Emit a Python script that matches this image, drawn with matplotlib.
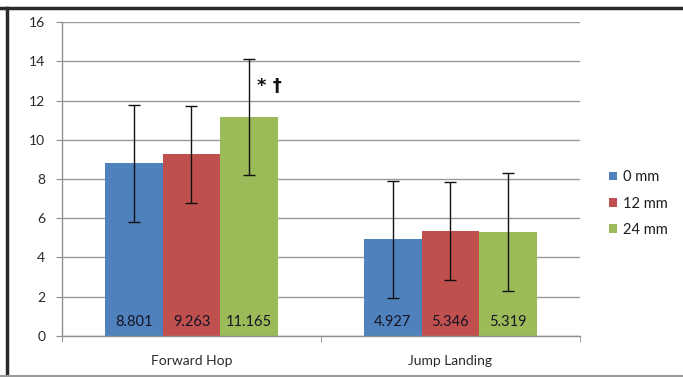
import numpy as np
import matplotlib.pyplot as plt
from matplotlib.lines import Line2D

plt.rcParams['font.family'] = ['Lato', 'DejaVu Sans']

categories = ["Forward Hop", "Jump Landing"]
series = ["0 mm", "12 mm", "24 mm"]
means = [
    [8.801, 4.927],
    [9.263, 5.346],
    [11.165, 5.319],
]
errors = [
    [2.98, 2.98],
    [2.47, 2.49],
    [2.96, 3.01],
]
colors = ["#4F81BD", "#C0504D", "#9BBB59"]
y_ticks = [0, 2, 4, 6, 8, 10, 12, 14, 16]

fig = plt.figure(figsize=(6.83, 3.77), dpi=100)
ax = fig.add_axes([0.0908, 0.1088, 0.7582, 0.8328])

x = np.arange(len(categories))
width = 1 / 4.5
for i, (name, vals, errs, c) in enumerate(zip(series, means, errors, colors)):
    pos = x + (i - 1) * width
    ax.bar(pos, vals, width, color=c, label=name, zorder=2)
    ax.errorbar(pos, vals, yerr=errs, fmt='none', ecolor='#111111',
                elinewidth=1.0, capsize=4, capthick=1.0, zorder=3)
    for px, v in zip(pos, vals):
        ax.text(px, 0.72, f"{v:.3f}", ha='center', va='center',
                fontsize=10.5, color='#151525', zorder=4)

# significance marks over the 24 mm forward hop bar
ax.text(0.30, 12.73, "* \u2020", ha='center', va='center', fontsize=13,
        fontweight='bold', color='#111111', family=['DejaVu Sans'])

ax.set_xlim(-0.5, 1.5)
ax.set_ylim(0, 16)
ax.set_yticks(y_ticks)
ax.set_xticks(x)
ax.set_xticklabels(categories)
ax.set_xticks([-0.5, 0.5, 1.5], minor=True)
ax.tick_params(axis='x', which='major', length=0, pad=14, labelsize=10,
               labelcolor='#2a2a2a')
ax.tick_params(axis='x', which='minor', length=4, color='#909090',
               direction='out')
ax.tick_params(axis='y', length=4, color='#909090', labelsize=10,
               labelcolor='#2a2a2a', pad=8)
ax.grid(axis='y', color='#9a9a9a', linewidth=1.0, zorder=0)
ax.set_axisbelow(True)
for side in ['top', 'right']:
    ax.spines[side].set_visible(False)
for side in ['left', 'bottom']:
    ax.spines[side].set_color('#909090')
    ax.spines[side].set_linewidth(1.0)

fig.legend(loc='center left', bbox_to_anchor=(0.872, 0.46), frameon=False,
           fontsize=10.5, handlelength=0.55, handleheight=0.55,
           handletextpad=0.4, labelspacing=0.85, labelcolor='#1e1e1e')

# frame around the chart
fig.add_artist(Line2D([0, 1], [0.979, 0.979], color='#2a2a2a', linewidth=2.5,
                      transform=fig.transFigure))
fig.add_artist(Line2D([0.0105, 0.0105], [0.0, 0.979], color='#2a2a2a',
                      linewidth=2.5, transform=fig.transFigure))
fig.add_artist(Line2D([0, 1], [0.003, 0.003], color='#9a9a9a', linewidth=1.5,
                      transform=fig.transFigure))

fig.savefig("out.png", dpi=100)
